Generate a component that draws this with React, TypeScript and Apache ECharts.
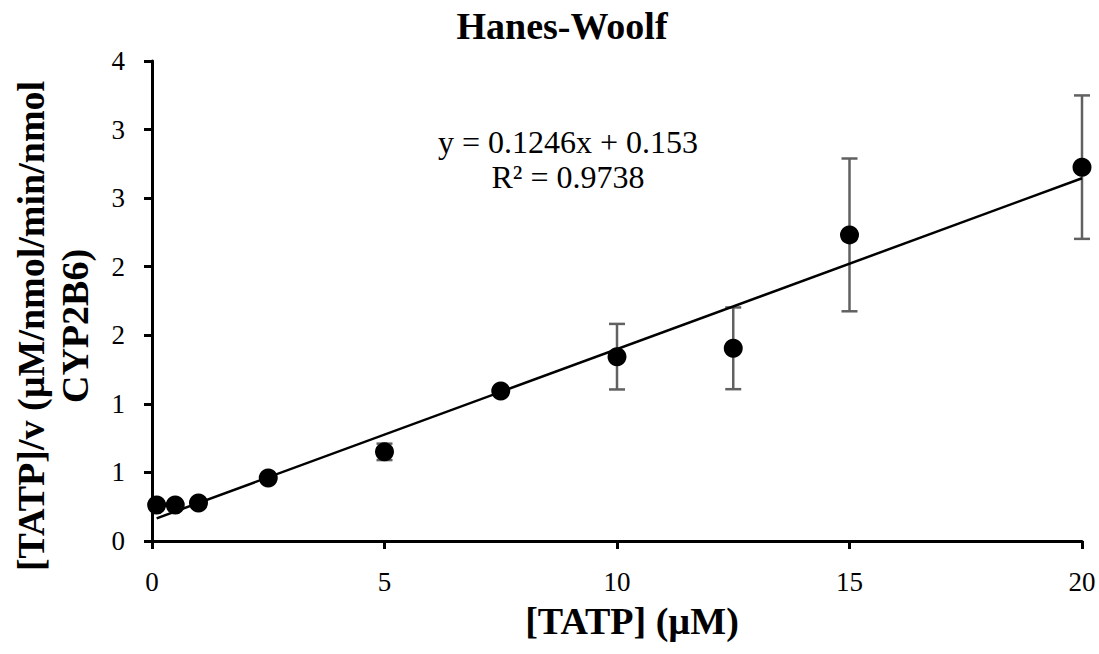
import React, { useEffect, useRef } from "react";
import * as echarts from "echarts";

// [TATP] concentrations (µM)
const concentrations = [0.1, 0.5, 1, 2.5, 5, 7.5, 10, 12.5, 15, 20];
// [TATP]/v values
const ratios = [0.263, 0.263, 0.277, 0.46, 0.65, 1.094, 1.344, 1.405, 2.232, 2.726];
// standard deviations
const deviations = [0.012, 0.012, 0.025, 0.012, 0.06, 0.02, 0.239, 0.298, 0.557, 0.523];

// linear fit reported on the chart
const slope = 0.1246;
const intercept = 0.153;
const rSquared = 0.9738;

const xTicks = { min: 0, max: 20, interval: 5 };
const yTicks = { min: 0, max: 3.5, interval: 0.5 };

const titleText = "Hanes-Woolf";
const xName = "[TATP] (µM)";
const yName = "[TATP]/v (µM/nmol/min/nmol\nCYP2B6)";

const FONT = "Liberation Serif";

export default function App() {
  const ref = useRef<HTMLDivElement>(null);

  useEffect(() => {
    document.body.style.margin = "0";
    if (!ref.current) return;
    const chart = echarts.init(ref.current, undefined, { renderer: "svg" });

    const points = concentrations.map((c, i) => [c, ratios[i]]);
    const errorData = concentrations.map((c, i) => [c, ratios[i], deviations[i]]);
    const xStart = concentrations[0];
    const xEnd = concentrations[concentrations.length - 1];
    const fitLine = [
      [xStart, slope * xStart + intercept],
      [xEnd, slope * xEnd + intercept],
    ];

    const axisCommon = {
      axisLine: { show: true, onZero: false, lineStyle: { color: "#000", width: 3 } },
      axisTick: { show: true, inside: false, length: 8, lineStyle: { color: "#000", width: 3 } },
      splitLine: { show: false },
    };

    const textStyle = (size: number, weight: string) => ({
      fontFamily: FONT,
      fontSize: size,
      fontWeight: weight,
      fill: "#000",
      align: "center",
      verticalAlign: "middle",
    });

    chart.setOption({
      animation: false,
      backgroundColor: "#fff",
      textStyle: { fontFamily: FONT },
      grid: { left: 152, right: 17, top: 61, bottom: 113, containLabel: false },
      xAxis: {
        type: "value",
        ...xTicks,
        ...axisCommon,
        axisLabel: { color: "#000", fontFamily: FONT, fontSize: 27, margin: 27 },
      },
      yAxis: {
        type: "value",
        ...yTicks,
        ...axisCommon,
        axisLabel: {
          color: "#000",
          fontFamily: FONT,
          fontSize: 27,
          margin: 27,
          formatter: (v: number) => Math.round(v).toFixed(0),
        },
      },
      graphic: [
        {
          type: "text",
          x: 562,
          y: 26,
          style: { text: titleText, ...textStyle(38, "bold") },
        },
        {
          type: "text",
          x: 632,
          y: 621,
          style: { text: xName, ...textStyle(38, "bold") },
        },
        {
          type: "text",
          x: 53,
          y: 326,
          rotation: Math.PI / 2,
          style: { text: yName, ...textStyle(38, "bold"), lineHeight: 44 },
        },
        {
          type: "text",
          x: 568,
          y: 159,
          style: {
            text: `y = ${slope}x + ${intercept}\nR² = ${rSquared}`,
            ...textStyle(32, "normal"),
            lineHeight: 35,
          },
        },
      ],
      series: [
        {
          type: "custom",
          data: errorData,
          z: 2,
          renderItem: (params: any, api: any) => {
            const x = api.value(0);
            const y = api.value(1);
            const e = api.value(2);
            const top = api.coord([x, y + e]);
            const bot = api.coord([x, y - e]);
            const half = 8;
            const style = { stroke: "#616161", lineWidth: 2.5 };
            return {
              type: "group",
              children: [
                { type: "line", shape: { x1: top[0], y1: top[1], x2: bot[0], y2: bot[1] }, style },
                { type: "line", shape: { x1: top[0] - half, y1: top[1], x2: top[0] + half, y2: top[1] }, style },
                { type: "line", shape: { x1: bot[0] - half, y1: bot[1], x2: bot[0] + half, y2: bot[1] }, style },
              ],
            };
          },
        },
        {
          type: "line",
          data: fitLine,
          z: 3,
          symbol: "none",
          lineStyle: { color: "#000", width: 2.5 },
        },
        {
          type: "scatter",
          data: points,
          z: 4,
          symbol: "circle",
          symbolSize: 19,
          itemStyle: { color: "#000", opacity: 1 },
        },
      ],
    });

    return () => chart.dispose();
  }, []);

  return <div ref={ref} style={{ width: 1099, height: 654 }} />;
}
